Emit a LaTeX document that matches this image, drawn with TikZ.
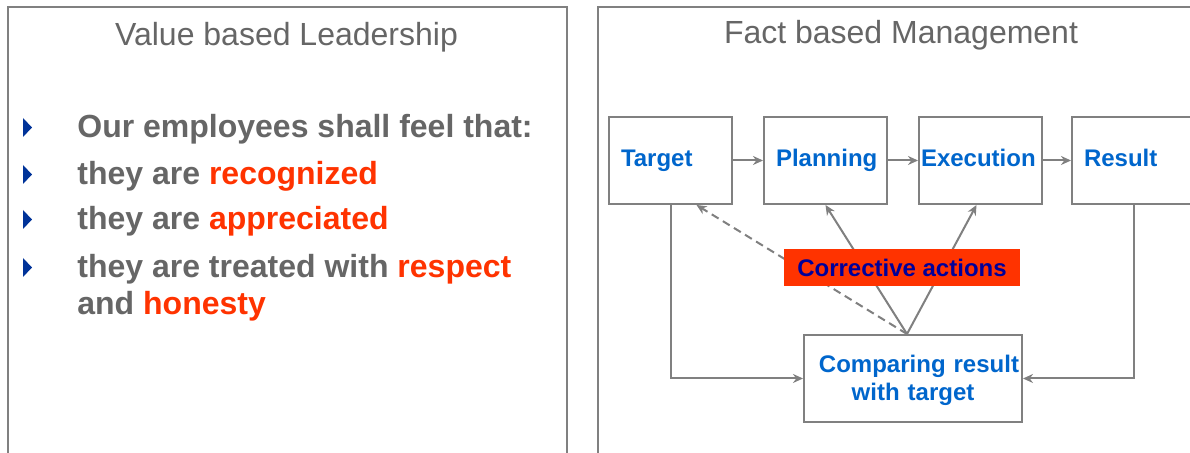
\documentclass[tikz,border=0pt]{standalone}
\usepackage{fontspec}
\setmainfont{Liberation Sans}
\usepackage{tikz}
\usetikzlibrary{arrows.meta}
\usepackage{xcolor}

\definecolor{txtgrey}{HTML}{666666}
\definecolor{linegrey}{HTML}{808080}
\definecolor{hired}{HTML}{FF3300}
\definecolor{boxblue}{HTML}{0066CC}
\definecolor{navy}{HTML}{000099}
\definecolor{bulletblue}{HTML}{003399}
\newcommand{\hl}[1]{\textcolor{hired}{#1}}

\begin{document}
\begin{tikzpicture}[x=0.5pt, y=-0.5pt,
    panel/.style={draw=linegrey, line width=1pt},
    heading/.style={anchor=base, text=txtgrey, font=\fontsize{16}{19}\selectfont},
    item/.style={anchor=base west, inner sep=0pt, text=txtgrey, font=\fontsize{16}{19}\selectfont\bfseries},
    stage/.style={draw=linegrey, line width=1pt, minimum width=61.5pt, minimum height=43.5pt,
        inner xsep=6pt, text width=49.5pt, text height=10pt, text depth=4pt, align=left,
        text=boxblue, font=\fontsize{12}{14}\selectfont\bfseries},
    link/.style={draw=linegrey, line width=1pt, >={Stealth[length=5pt,width=4.5pt]}, ->}]
        \clip (0,0) rectangle (1190,453);
        \fill[white] (0,0) rectangle (1190,453);

        % the two panels
        \draw[panel] (8,7) rectangle (567,470);
        \draw[panel] (598,7) rectangle (1210,470);
        \node[heading] (lefttitle) at (286.5,46) {Value based Leadership};
        \node[heading] (righttitle) at (901,44) {Fact based Management};

        % value based leadership
        \foreach \y in {138,185,230,278}
            \fill[bulletblue] (23,{\y-20}) -- (32,{\y-10.5}) -- (23,{\y-1}) -- cycle;
        \node[item] (feel) at (77,138) {Our employees shall feel that:};
        \node[item] (recog) at (77,185) {they are \hl{recognized}};
        \node[item] (appr) at (77,230) {they are \hl{appreciated}};
        \node[item] (resp) at (77,278) {they are treated with \hl{respect}};
        \node[item] (hon) at (77,315) {and \hl{honesty}};

        % fact based management
        \node[stage] (target) at (670.5,160.5) {Target};
        \node[stage] (planning) at (825.5,160.5) {Planning};
        \node[stage, inner xsep=1pt, text width=59.5pt] (execution) at (980.5,160.5) {Execution};
        \node[stage] (result) at (1133.5,160.5) {Result};
        \node[stage, minimum width=109pt, inner xsep=1pt, text width=107pt, text height=9pt,
            text depth=15pt, align=center] (compare) at (913,378.5)
            {\hspace*{6pt}Comparing result\\with target};

        \foreach \i/\j in {target/planning, planning/execution, execution/result}
            \path[link] (\i) edge (\j);
        \draw[link] (target.south) |- (compare.west);
        \draw[link] (result.south) |- (compare.east);
        \draw[link] ([xshift=-3pt]compare.north) -- (planning.south);
        \draw[link] ([xshift=-3pt]compare.north) -- ([xshift=-2pt]execution.south);
        \draw[link, dash pattern=on 4pt off 2.5pt] ([xshift=-3pt]compare.north) -- ([xshift=13pt]target.south);

        \node[fill=hired, minimum width=118pt, minimum height=18.5pt, inner sep=0pt, text=navy,
            font=\fontsize{12}{14}\selectfont\bfseries] (corrective) at (902,267.5) {Corrective actions};
\end{tikzpicture}
\end{document}
